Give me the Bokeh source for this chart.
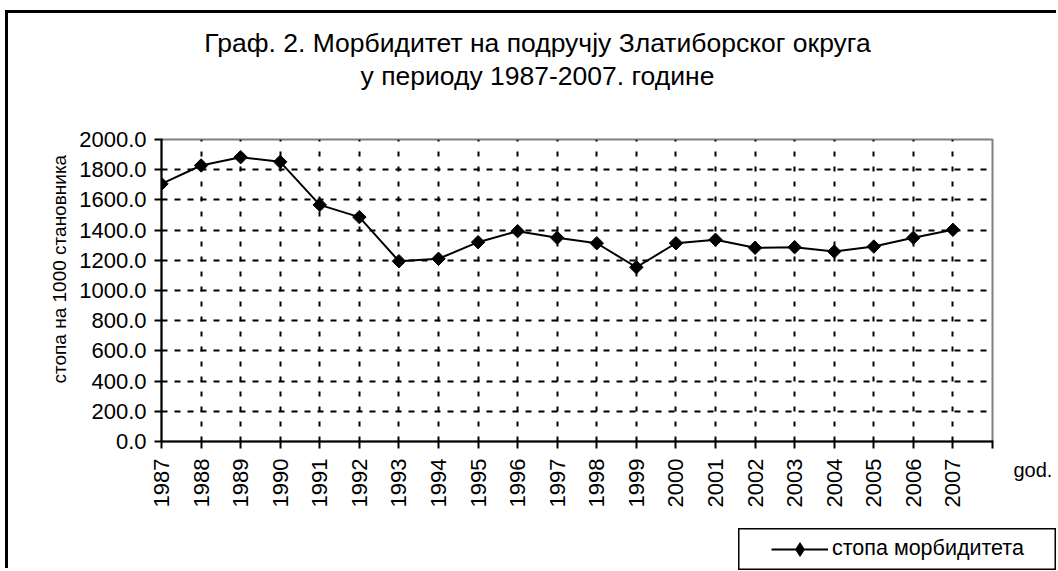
import math
from bokeh.plotting import figure
from bokeh.layouts import column, row
from bokeh.models import (Range1d, FixedTicker, NumeralTickFormatter, Label, Title,
                          Legend, LegendItem, ColumnDataSource, Spacer, Div)
from bokeh.embed import file_html
from bokeh.resources import INLINE

# ---- data ----
years = [1987, 1988, 1989, 1990, 1991, 1992, 1993, 1994, 1995, 1996, 1997,
         1998, 1999, 2000, 2001, 2002, 2003, 2004, 2005, 2006, 2007]
rate = [1706, 1828, 1883, 1852, 1567, 1486, 1194, 1210, 1320, 1393, 1349,
        1313, 1154, 1313, 1336, 1283, 1287, 1258, 1291, 1349, 1402]
x_ticks = [1987, 1988, 1989, 1990, 1991, 1992, 1993, 1994, 1995, 1996, 1997,
           1998, 1999, 2000, 2001, 2002, 2003, 2004, 2005, 2006, 2007, 2008]
y_ticks = [0, 200, 400, 600, 800, 1000, 1200, 1400, 1600, 1800, 2000]
title_lines = ["Граф. 2. Морбидитет на подручју Златиборског округа",
               "у периоду 1987-2007. године"]
y_label = "стопа  на 1000 становника"
x_label = "god."
series_name = "стопа морбидитета"

FONT = "Liberation Sans"

src = ColumnDataSource(dict(x=years, y=rate))

p = figure(width=1048, height=515, output_backend="svg", toolbar_location=None,
           x_range=Range1d(x_ticks[0], x_ticks[-1]), y_range=Range1d(y_ticks[0], y_ticks[-1]),
           min_border_left=153, min_border_right=64, min_border_top=126, min_border_bottom=87)
p.background_fill_color = "white"
p.border_fill_color = "white"
p.outline_line_color = "#808080"
p.outline_line_width = 2

# axes
for ax in (p.xaxis[0], p.yaxis[0]):
    ax.axis_line_color = "black"
    ax.axis_line_width = 2
    ax.major_tick_line_color = "black"
    ax.major_tick_line_width = 2
    ax.major_tick_out = 7
    ax.major_tick_in = 1
    ax.minor_tick_line_color = None
    ax.major_label_text_font = FONT
    ax.major_label_text_font_size = "22px"
    ax.major_label_text_color = "black"

p.xaxis.ticker = FixedTicker(ticks=x_ticks)
p.xaxis.major_label_overrides = {x_ticks[-1]: ""}
p.xaxis.major_label_orientation = math.pi / 2
p.xaxis.major_label_standoff = 10

p.yaxis.ticker = FixedTicker(ticks=y_ticks)
p.yaxis.formatter = NumeralTickFormatter(format="0.0")
p.yaxis.major_label_standoff = 8

# grids
p.xgrid.ticker = FixedTicker(ticks=x_ticks[1:-1])
p.xgrid.grid_line_color = "black"
p.xgrid.grid_line_width = 2
p.xgrid.grid_line_dash = "5 10"
p.ygrid.ticker = FixedTicker(ticks=y_ticks[1:-1])
p.ygrid.grid_line_color = "black"
p.ygrid.grid_line_width = 2
p.ygrid.grid_line_dash = "6 7"

# series
ln = p.line("x", "y", source=src, line_color="black", line_width=2)
mk = p.scatter("x", "y", source=src, marker="square", size=9.5, angle=math.pi / 4,
               fill_color="black", line_color="black")

# title: one two-line label in the above panel
p.add_layout(Label(x=376, y=112, x_units="screen", y_units="screen",
                   text=title_lines[0] + "\n" + title_lines[1],
                   text_align="center", text_baseline="top", text_line_height=1.1,
                   text_font=FONT, text_font_size="26.5px", text_color="black"), "above")

# y axis label as a left title
p.add_layout(Title(text=y_label, align="left", offset=58, standoff=14,
                   text_font=FONT, text_font_size="19px", text_font_style="normal",
                   text_color="black"), "left")

# x axis label at the right end
p.add_layout(Label(x=21, y=-28, x_units="screen", y_units="screen", text=x_label,
                   text_align="left", text_baseline="alphabetic",
                   text_font=FONT, text_font_size="20px", text_color="black"), "right")

# ---- legend box (separate small figure; its sample glyphs use the series data,
#      which lies outside this box's ranges, so only the legend sample shows) ----
lg = figure(width=318, height=42, output_backend="svg", toolbar_location=None,
            x_range=Range1d(0, 1), y_range=Range1d(0, 1),
            x_axis_location=None, y_axis_location=None,
            min_border=0, min_border_left=0, min_border_right=0,
            min_border_top=0, min_border_bottom=0)
lg.grid.visible = False
lg.outline_line_color = "black"
lg.outline_line_width = 2
lg.background_fill_color = "white"
lg.border_fill_color = "white"
lln = lg.line("x", "y", source=src, line_color="black", line_width=2)
lmk = lg.scatter("x", "y", source=src, marker="diamond", size=10,
                 fill_color="black", line_color="black", line_width=3, line_join="miter")
legend = Legend(items=[LegendItem(label=series_name, renderers=[lln, lmk])],
                location=(33, 9), orientation="vertical")
legend.border_line_color = None
legend.background_fill_alpha = 0
legend.padding = 0
legend.margin = 0
legend.glyph_width = 57
legend.glyph_height = 24
legend.label_height = 24
legend.label_standoff = 4
legend.label_text_font = FONT
legend.label_text_font_size = "21.5px"
legend.label_text_color = "black"
lg.add_layout(legend, "center")

# ---- outer frame of the chart (thick black left/top edges) ----
left_bar = Div(text="", width=3, height=558, margin=0, styles={"background-color": "black"})
top_bar = Div(text="", width=1048, height=3, margin=0, styles={"background-color": "black"})

inner = column(top_bar, p, row(Spacer(width=730, height=42), lg, spacing=0), spacing=0)
root = column(Spacer(width=10, height=10),
              row(Spacer(width=5, height=10), left_bar, inner, spacing=0),
              spacing=0)

open("out.html", "w").write(file_html(root, INLINE))
